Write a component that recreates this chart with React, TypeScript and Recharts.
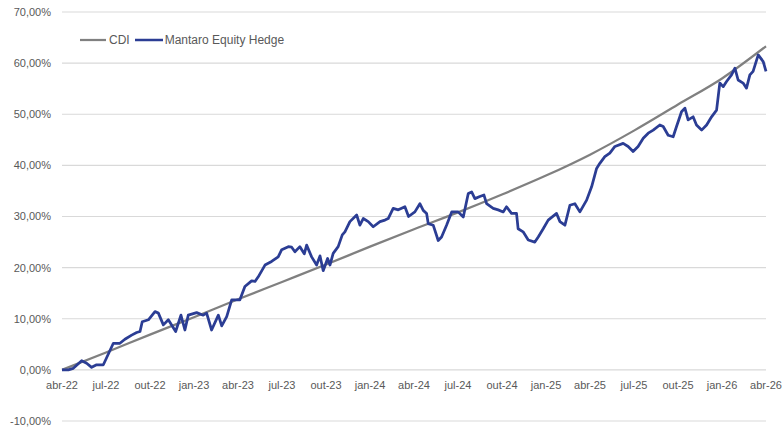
import React from 'react';
import { LineChart, Line, XAxis, YAxis, CartesianGrid } from 'recharts';

// x values are months elapsed since abr-22
const X_TICKS = [0, 3, 6, 9, 12, 15, 18, 21, 24, 27, 30, 33, 36, 39, 42, 45, 48];
const X_LABELS = ['abr-22', 'jul-22', 'out-22', 'jan-23', 'abr-23', 'jul-23', 'out-23', 'jan-24', 'abr-24', 'jul-24', 'out-24', 'jan-25', 'abr-25', 'jul-25', 'out-25', 'jan-26', 'abr-26'];
const Y_TICKS = [-10, 0, 10, 20, 30, 40, 50, 60, 70];

const CDI_M = [0, 3, 6, 9, 12, 15, 18, 21, 24, 27, 30, 33, 36, 39, 42, 45, 48];
const CDI_V = [0, 3.4, 6.9, 10.3, 13.8, 17.2, 20.6, 24.1, 27.5, 30.8, 34.3, 38.0, 42.1, 46.8, 51.9, 57.0, 63.3];

const FUND_M = [
  0, 0.43, 0.77, 1.34, 1.68, 2.02, 2.36, 2.82, 3.16, 3.5,
  3.95, 4.29, 4.75, 5.09, 5.32, 5.47, 5.89, 6.34, 6.57, 6.91,
  7.25, 7.75, 8.11, 8.38, 8.61, 9.18, 9.63, 9.86, 10.2, 10.66,
  10.89, 11.23, 11.57, 12.13, 12.47, 12.93, 13.16, 13.38, 13.84, 14.29,
  14.74, 14.98, 15.43, 15.66, 15.88, 16.22, 16.52, 16.68, 17.02, 17.36,
  17.59, 17.81, 18.11, 18.27, 18.49, 18.83, 19.11, 19.29, 19.63, 20.09,
  20.31, 20.54, 20.88, 21.22, 21.68, 22.02, 22.24, 22.58, 22.93, 23.38,
  23.63, 24.06, 24.4, 24.63, 24.86, 24.97, 25.31, 25.65, 25.88, 26.22,
  26.57, 27.01, 27.36, 27.7, 27.93, 28.15, 28.49, 28.77, 28.95, 29.4,
  29.74, 30.08, 30.31, 30.65, 30.99, 31.1, 31.44, 31.79, 32.24, 32.47,
  32.81, 33.15, 33.72, 33.95, 34.29, 34.63, 34.97, 35.31, 35.77, 36.11,
  36.45, 36.67, 37.01, 37.35, 37.7, 38.26, 38.6, 38.94, 39.28, 39.63,
  39.97, 40.31, 40.76, 40.99, 41.33, 41.67, 41.9, 42.24, 42.47, 42.69,
  43.03, 43.26, 43.61, 43.95, 44.29, 44.63, 44.85, 45.08, 45.31, 45.65,
  45.88, 46.1, 46.44, 46.67, 46.9, 47.12, 47.47, 47.81, 48.0,
];
const FUND_V = [
  0, 0.0, 0.3, 1.8, 1.3, 0.5, 1.0, 1.0, 3.1, 5.2,
  5.2, 6.0, 6.8, 7.3, 7.5, 9.4, 9.8, 11.4, 11.1, 8.8,
  9.8, 7.5, 10.7, 7.8, 10.7, 11.2, 10.7, 11.1, 7.8, 10.7,
  8.6, 10.4, 13.7, 13.7, 16.3, 17.4, 17.3, 18.2, 20.5, 21.2,
  22.1, 23.5, 24.1, 24.0, 23.1, 24.1, 22.7, 24.4, 22.1, 20.5,
  22.3, 19.4, 21.8, 20.5, 22.8, 24.1, 26.4, 27.0, 29.0, 30.3,
  28.3, 29.6, 29.0, 28.0, 29.0, 29.3, 29.6, 31.6, 31.3, 31.9,
  30.0, 30.9, 32.5, 31.2, 30.6, 28.6, 28.3, 25.3, 26.0, 28.3,
  30.9, 30.9, 29.9, 34.5, 34.8, 33.5, 33.9, 34.2, 32.5, 31.6,
  31.3, 30.9, 31.9, 30.6, 30.6, 27.6, 27.0, 25.4, 25.0, 26.0,
  27.6, 29.3, 30.6, 29.0, 28.3, 32.2, 32.5, 30.9, 33.2, 35.8,
  39.4, 40.4, 41.7, 42.4, 43.7, 44.3, 43.7, 42.7, 43.7, 45.3,
  46.3, 46.9, 47.9, 47.6, 45.9, 45.6, 47.6, 50.5, 51.2, 48.9,
  49.5, 47.9, 46.9, 47.9, 49.5, 50.8, 56.1, 55.4, 56.4, 57.7,
  59.0, 56.7, 56.1, 55.1, 57.7, 58.4, 61.6, 60.3, 58.4,
];

const cdiData = CDI_M.map((m, i) => ({ m, cdi: CDI_V[i] }));
const fundData = FUND_M.map((m, i) => ({ m, fund: FUND_V[i] }));

const W = 784;
const H = 428;
const X_AXIS_H = 1;
const MARGIN = { top: 12, right: 18, bottom: 6, left: 0 };
const Y_MIN = -10;
const Y_MAX = 70;
const PLOT_BOTTOM = H - MARGIN.bottom - X_AXIS_H;
const PLOT_H = PLOT_BOTTOM - MARGIN.top;
const ZERO_Y = MARGIN.top + (PLOT_H * (Y_MAX - 0)) / (Y_MAX - Y_MIN);

const TEXT = '#595959';
const FONT = '"Liberation Sans", Arial, sans-serif';
const CDI_COLOR = '#808080';
const FUND_COLOR = '#2B3D94';

const fmtPct = (v: number) => v.toFixed(2).replace('.', ',') + '%';

const renderXTick = (props: any) => {
  const { x, payload } = props;
  const idx = X_TICKS.indexOf(payload.value);
  return (
    <text x={x} y={ZERO_Y + 19} textAnchor="middle" fill={TEXT} fontSize={11} fontFamily={FONT}>
      {idx >= 0 ? X_LABELS[idx] : ''}
    </text>
  );
};

const LegendBox = () => (
  <div
    style={{
      position: 'absolute',
      left: 80,
      top: 32,
      display: 'flex',
      alignItems: 'center',
      fontFamily: FONT,
      fontSize: 12,
      color: TEXT,
      lineHeight: '16px',
      whiteSpace: 'nowrap',
    }}
  >
    <svg width={26} height={6} style={{ marginRight: 3 }}>
      <line x1={0} y1={3} x2={26} y2={3} stroke={CDI_COLOR} strokeWidth={2.25} />
    </svg>
    <span style={{ marginRight: 5 }}>CDI</span>
    <svg width={28} height={6} style={{ marginRight: 2 }}>
      <line x1={0} y1={3} x2={28} y2={3} stroke={FUND_COLOR} strokeWidth={2.5} />
    </svg>
    <span>Mantaro Equity Hedge</span>
  </div>
);

export default function App() {
  return (
    <div style={{ position: 'absolute', left: 0, top: 0, width: W, height: H, background: '#fff' }}>
      <LineChart width={W} height={H} margin={MARGIN}>
        <CartesianGrid vertical={false} stroke="#d9d9d9" strokeWidth={1.2} />
        <XAxis
          type="number"
          dataKey="m"
          domain={[0, 48]}
          ticks={X_TICKS}
          height={X_AXIS_H}
          axisLine={false}
          tickLine={false}
          tick={renderXTick}
          interval={0}
        />
        <YAxis
          type="number"
          domain={[Y_MIN, Y_MAX]}
          ticks={Y_TICKS}
          width={62}
          axisLine={false}
          tickLine={false}
          tickSize={0}
          tickMargin={11}
          tickFormatter={fmtPct}
          tick={{ fill: TEXT, fontSize: 11, fontFamily: FONT }}
          interval={0}
        />
        <Line
          data={cdiData}
          dataKey="cdi"
          name="CDI"
          type="monotone"
          stroke={CDI_COLOR}
          strokeWidth={2.25}
          dot={false}
          activeDot={false}
          isAnimationActive={false}
        />
        <Line
          data={fundData}
          dataKey="fund"
          name="Mantaro Equity Hedge"
          type="linear"
          stroke={FUND_COLOR}
          strokeWidth={2.75}
          strokeLinejoin="round"
          dot={false}
          activeDot={false}
          isAnimationActive={false}
        />
      </LineChart>
      <LegendBox />
    </div>
  );
}
